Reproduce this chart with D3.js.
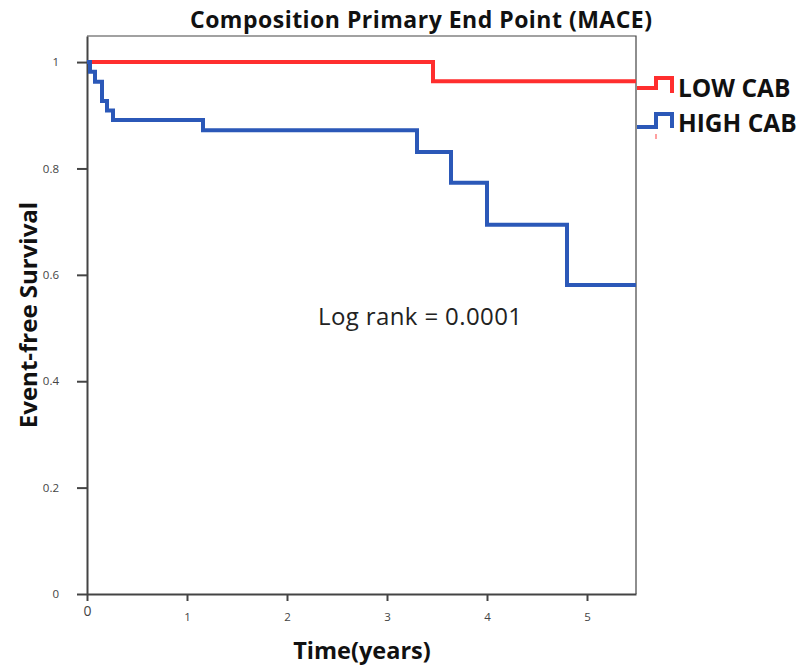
<!DOCTYPE html>
<html>
<head>
<meta charset="utf-8">
<script src="https://cdn.jsdelivr.net/npm/d3@7"></script>
<style>
  body { margin: 0; background: #fff; }
  svg { display: block; }
  text { font-family: "Open Sans", "Liberation Sans", sans-serif; }
</style>
</head>
<body>
<div id="chart"></div>
<script>
// survival curves (time in years, event-free survival)
var lowTimes   = [0, 3.46, 5.49];
var lowValues  = [1, 0.964, 0.964];
var highTimes  = [0, 0.03, 0.08, 0.15, 0.20, 0.26, 1.16, 3.30, 3.64, 4.00, 4.80, 5.49];
var highValues = [1, 0.982, 0.963, 0.927, 0.909, 0.891, 0.872, 0.831, 0.773, 0.694, 0.581, 0.581];

var xTicks = [0, 1, 2, 3, 4, 5];
var yTicks = [0, 0.2, 0.4, 0.6, 0.8, 1];
var seriesNames = ["LOW CAB", "HIGH CAB"];
var seriesColors = ["#ff2e2e", "#2b58b8"];

var width = 803, height = 668;
// plot box (top is a reserved window name, so use plot* names)
var plotLeft = 87, plotRight = 636, plotTop = 36, plotBottom = 594;

var svg = d3.select("#chart").append("svg")
  .attr("width", width)
  .attr("height", height);

//scales
var x = d3.scaleLinear().domain([0, 5.49]).range([plotLeft, plotRight]);
var y = d3.scaleLinear().domain([0, 1.049]).range([plotBottom, plotTop]);

//thin frame on top and right
svg.append("path")
  .attr("d", "M" + plotLeft + "," + plotTop + "H" + plotRight + "V" + plotBottom)
  .attr("fill", "none")
  .attr("stroke", "#444")
  .attr("stroke-width", 1.2);

//axes
var yAxis = d3.axisLeft(y).tickValues(yTicks).tickSize(10).tickSizeOuter(0).tickPadding(18)
  .tickFormat(d3.format(""));
var xAxis = d3.axisBottom(x).tickValues(xTicks).tickSize(7).tickSizeOuter(0).tickPadding(12)
  .tickFormat(d3.format("d"));

var gy = svg.append("g").attr("transform", "translate(" + plotLeft + ",0)").call(yAxis);
var gx = svg.append("g").attr("transform", "translate(0," + plotBottom + ")").call(xAxis);

[gx, gy].forEach(function(g) {
  g.select(".domain").attr("stroke", "#444").attr("stroke-width", 2);
  g.selectAll(".tick line").attr("stroke", "#444").attr("stroke-width", 2);
  g.selectAll(".tick text").attr("fill", "#444").style("font-size", "11.5px");
});
// the first x label sits a little higher and larger in the original
gx.selectAll(".tick text").filter(function(d) { return d == 0; })
  .style("font-size", "14px").attr("y", 12);

//curves
var line = d3.line()
  .x(function(d) { return x(d[0]); })
  .y(function(d) { return y(d[1]); })
  .curve(d3.curveStepAfter);

var series = [
  d3.zip(lowTimes, lowValues),
  d3.zip(highTimes, highValues)
];

svg.selectAll("path.curve")
  .data(series)
  .enter().append("path")
  .attr("class", "curve")
  .attr("d", line)
  .attr("fill", "none")
  .attr("stroke", function(d, i) { return seriesColors[i]; })
  .attr("stroke-width", 4)
  .attr("stroke-linejoin", "miter");

//legend: little step symbols outside the frame
var legendY = [88, 127];
series.forEach(function(s, i) {
  var ly = legendY[i];
  var up = i == 0 ? 10 : 13;
  var lx = plotRight + 1;
  svg.append("path")
    .attr("d", "M" + lx + "," + ly + "H" + (lx + 19) + "V" + (ly - up) + "H" + (lx + 35) + "V" + (ly + (i == 0 ? 5 : 1)))
    .attr("fill", "none")
    .attr("stroke", seriesColors[i])
    .attr("stroke-width", 4);
  svg.append("text")
    .attr("x", 678)
    .attr("y", ly + 9 + (i == 0 ? 0 : -4))
    .attr("font-weight", "bold")
    .style("font-size", "24.5px")
    .attr("fill", "#111")
    .text(seriesNames[i]);
});
// small censor mark below the legend
svg.append("line")
  .attr("x1", plotRight + 20).attr("x2", plotRight + 20)
  .attr("y1", 134).attr("y2", 139)
  .attr("stroke", "#ff8080").attr("stroke-width", 1.5);

//title and labels
svg.append("text")
  .attr("x", 421).attr("y", 28)
  .attr("text-anchor", "middle")
  .attr("font-weight", "bold")
  .style("font-size", "23px")
  .attr("textLength", 462)
  .attr("lengthAdjust", "spacing")
  .attr("fill", "#111")
  .text("Composition Primary End Point (MACE)");

svg.append("text")
  .attr("transform", "translate(37,315) rotate(-90)")
  .attr("text-anchor", "middle")
  .attr("font-weight", "bold")
  .style("font-size", "24px")
  .attr("fill", "#111")
  .text("Event-free Survival");

svg.append("text")
  .attr("x", 362).attr("y", 659)
  .attr("text-anchor", "middle")
  .attr("font-weight", "bold")
  .style("font-size", "23.5px")
  .attr("fill", "#111")
  .text("Time(years)");

svg.append("text")
  .attr("x", 420).attr("y", 325)
  .attr("text-anchor", "middle")
  .style("font-size", "24px")
  .attr("textLength", 204)
  .attr("lengthAdjust", "spacing")
  .attr("fill", "#222")
  .text("Log rank = 0.0001");
</script>
</body>
</html>
